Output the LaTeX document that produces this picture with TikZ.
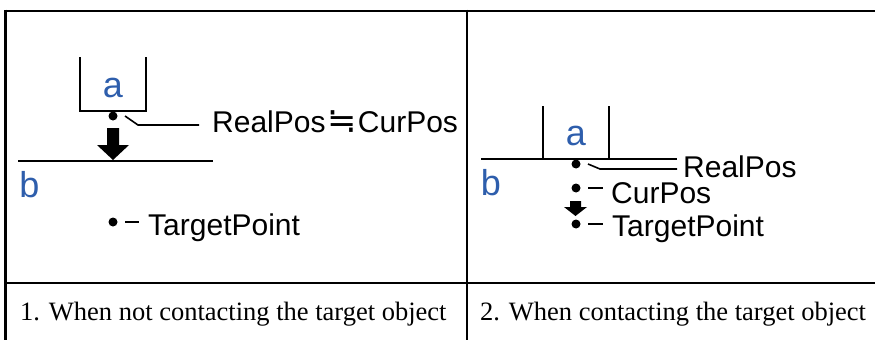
\documentclass[tikz,border=0pt]{standalone}
\usepackage{fontspec}
\setmainfont{Liberation Serif}
\newfontfamily\arial{Liberation Sans}
\newfontfamily\dejavu{DejaVu Sans}
\definecolor{letterblue}{RGB}{46,94,172}
\begin{document}
\begin{tikzpicture}[x=1pt,y=-1pt,
  frameline/.style={line width=2.9pt},
  thinline/.style={line width=1.6pt},
  lbl/.style={anchor=base west,inner sep=0pt,font=\arial\fontsize{30}{32}\selectfont},
  objlbl/.style={anchor=base,inner sep=0pt,text=letterblue,font=\arial\fontsize{36}{40}\selectfont},
  captext/.style={anchor=base west,inner sep=0pt,font=\fontsize{26.5}{30}\selectfont},
  pt/.style={circle,fill=black,inner sep=0pt,minimum size=9pt},
  bigarrow/.style={fill=black}]
\useasboundingbox (0,0) rectangle (875,340);
% table
\coordinate (tl) at (4,11);
\coordinate (tr) at (875,11);
\coordinate (ml) at (4,283);
\coordinate (mr) at (875,283);
\draw[frameline] (tl) -- (tr);
\draw[frameline] (ml) -- (mr);
\draw[frameline] (5.5,9.6) -- (5.5,340);
\draw[frameline] (467,9.6) -- (467,340);
% captions
\node[captext] (c1) at (20,320) {1. When not contacting the target object};
\node[captext] (c2) at (480,320) {2. When contacting the target object};

% ---------- panel 1 ----------
\draw[thinline] (80,57) -- (80,111) -- (146,111) -- (146,57);
\node[objlbl] (a1) at (113,97) {a};
\node[pt] (p1) at (113,116) {};
\draw[thinline] (125,116) -- (138,125) -- (199,125) coordinate (r1end);
\node[lbl] (rc1) at (212,132.5) {RealPos\hspace{1.5pt}{\dejavu\fontsize{35}{35}\selectfont ≒}\hspace{1.5pt}CurPos};
\fill[bigarrow] (107,128) -- (119,128) -- (119,145) -- (129,145) -- (113,160) -- (97,145) -- (107,145) -- cycle;
\draw[thinline] (18,161) -- (213,161);
\node[objlbl] (b1) at (29.5,197) {b};
\node[pt] (t1) at (113,222) {};
\draw[thinline] (125,222) -- (139,222);
\node[lbl] (tp1) at (148,235) {TargetPoint};

% ---------- panel 2 ----------
\draw[thinline] (543,106) -- (543,159);
\draw[thinline] (609,106) -- (609,159);
\draw[thinline] (481,159) -- (677,159);
\node[objlbl] (a2) at (576,145) {a};
\node[objlbl] (b2) at (491,195) {b};
\node[pt] (p2) at (576,164) {};
\draw[thinline] (588,164) -- (600,169) -- (677,169);
\node[lbl] (rp2) at (683,177) {RealPos};
\node[pt] (c2p) at (576,188) {};
\draw[thinline] (588,188) -- (603,188);
\node[lbl] (cp2) at (611,203) {CurPos};
\fill[bigarrow] (570,201) -- (581,201) -- (581,207) -- (587,207) -- (575.5,216) -- (564,207) -- (570,207) -- cycle;
\node[pt] (t2) at (576,224) {};
\draw[thinline] (588,224) -- (603,224);
\node[lbl] (tp2) at (612,236) {TargetPoint};
\end{tikzpicture}
\end{document}
